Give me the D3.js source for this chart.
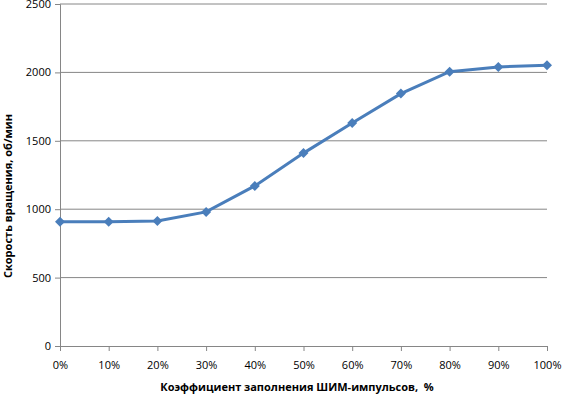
<!DOCTYPE html>
<html>
<head>
<meta charset="utf-8">
<script src="https://cdn.jsdelivr.net/npm/d3@7"></script>
<style>
  body { margin: 0; background: #fff; }
  text { font-family: "Open Sans", "Liberation Sans", sans-serif; }
</style>
</head>
<body>
<div id="chart"></div>
<script>
// Daten: Koeffizient (%) und Drehzahl (об/мин)
const koeffizient = [0, 10, 20, 30, 40, 50, 60, 70, 80, 90, 100];
const drehzahl = [908, 908, 914, 980, 1170, 1410, 1630, 1845, 2005, 2040, 2052];
const yTicks = [0, 500, 1000, 1500, 2000, 2500];

const width = 563, height = 394;
const margin = { top: 4, right: 16, bottom: 48, left: 60 };
const innerW = width - margin.left - margin.right;
const innerH = height - margin.top - margin.bottom;

const svg = d3.select("#chart").append("svg")
  .attr("width", width)
  .attr("height", height);

const g = svg.append("g")
  .attr("transform", `translate(${margin.left},${margin.top})`);

const x = d3.scaleLinear().domain([0, 100]).range([0, innerW]);
const y = d3.scaleLinear().domain([0, 2500]).range([innerH, 0]);

// Gitterlinien
g.selectAll(".grid")
  .data(yTicks.filter(d => d > 0))
  .enter().append("line")
  .attr("x1", 0).attr("x2", innerW)
  .attr("y1", d => y(d)).attr("y2", d => y(d))
  .attr("stroke", "#868686").attr("stroke-width", 1);

// Y-Achse
const yAxis = g.append("g")
  .call(d3.axisLeft(y).tickValues(yTicks).tickSize(5).tickPadding(4).tickFormat(d3.format("d")));
yAxis.select(".domain").attr("stroke", "#868686");
yAxis.selectAll(".tick line").attr("stroke", "#868686");
yAxis.selectAll("text").attr("font-size", "11px").attr("fill", "#000");

// X-Achse
const xAxis = g.append("g")
  .attr("transform", `translate(0,${innerH})`)
  .call(d3.axisBottom(x).tickValues(koeffizient).tickSize(5).tickPadding(10).tickFormat(d => d + "%"));
xAxis.select(".domain").attr("stroke", "#868686");
xAxis.selectAll(".tick line").attr("stroke", "#868686");
xAxis.selectAll("text").attr("font-size", "11px").attr("fill", "#000");

// Linie
const line = d3.line()
  .x((d, i) => x(koeffizient[i]))
  .y(d => y(d));

g.append("path")
  .datum(drehzahl)
  .attr("fill", "none")
  .attr("stroke", "#4A7EBB")
  .attr("stroke-width", 3)
  .attr("d", line);

// Rauten-Marker (quadratische Raute wie in Excel)
g.selectAll(".marker")
  .data(drehzahl)
  .enter().append("path")
  .attr("d", "M0,-5L5,0L0,5L-5,0Z")
  .attr("transform", (d, i) => `translate(${x(koeffizient[i])},${y(d)})`)
  .attr("fill", "#4A7EBB");

// Achsentitel
svg.append("text")
  .attr("x", 297).attr("y", 391)
  .attr("text-anchor", "middle")
  .attr("font-size", "11px")
  .attr("font-weight", "bold")
  .style("white-space", "pre")
  .text("Коэффициент заполнения ШИМ-импульсов,  %");

svg.append("text")
  .attr("transform", "translate(12,196) rotate(-90)")
  .attr("text-anchor", "middle")
  .attr("font-size", "11px")
  .attr("font-weight", "bold")
  .text("Скорость вращения, об/мин");
</script>
</body>
</html>
